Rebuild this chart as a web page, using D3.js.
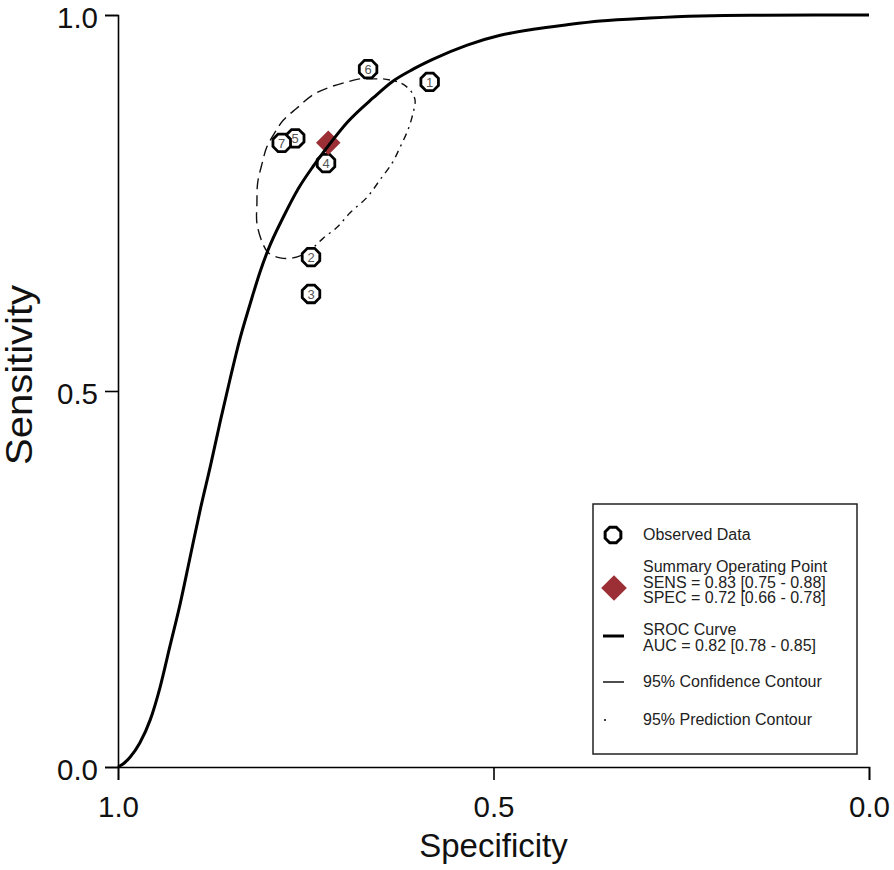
<!DOCTYPE html>
<html>
<head>
<meta charset="utf-8">
<script src="https://cdn.jsdelivr.net/npm/d3@7"></script>
<style>
  html, body { margin: 0; padding: 0; background: #fff; }
  svg { display: block; font-family: "Liberation Sans", Arial, sans-serif; }
</style>
</head>
<body>
<svg id="chart" width="894" height="870"></svg>
<script>
// ---- data (specificity, sensitivity) ----
const studyIds   = ["1", "2", "3", "4", "5", "6", "7"];
const studySpec  = [0.585, 0.743, 0.743, 0.723, 0.764, 0.667, 0.782];
const studySens  = [0.911, 0.678, 0.629, 0.803, 0.836, 0.928, 0.830];

const summarySpec = 0.72;
const summarySens = 0.83;

const srocSpec = [1.000, 0.992, 0.984, 0.971, 0.957, 0.944, 0.931, 0.917, 0.904, 0.891, 0.877, 0.864, 0.851, 0.838, 0.824, 0.811, 0.800, 0.780, 0.760, 0.740, 0.720, 0.694, 0.660, 0.634, 0.607, 0.581, 0.535, 0.491, 0.447, 0.402, 0.358, 0.292, 0.225, 0.158, 0.000];
const srocSens = [0.000, 0.005, 0.013, 0.032, 0.063, 0.106, 0.160, 0.218, 0.279, 0.340, 0.400, 0.459, 0.515, 0.568, 0.616, 0.658, 0.688, 0.731, 0.769, 0.799, 0.826, 0.858, 0.890, 0.912, 0.928, 0.941, 0.960, 0.973, 0.981, 0.987, 0.992, 0.996, 0.9987, 0.9997, 1.000];

// confidence contour: right side (dash-dot look) and left side (dashed)
const contourRightSpec = [0.647, 0.6245, 0.611, 0.6045, 0.607, 0.614, 0.6245, 0.635, 0.651, 0.668, 0.691, 0.708, 0.727, 0.740, 0.754];
const contourRightSens = [0.915, 0.910, 0.900, 0.887, 0.870, 0.847, 0.824, 0.803, 0.781, 0.758, 0.737, 0.718, 0.703, 0.691, 0.681];
const contourLeftSpec  = [0.754, 0.767, 0.784, 0.800, 0.808, 0.815, 0.815, 0.814, 0.808, 0.802, 0.791, 0.780, 0.762, 0.740, 0.718, 0.695, 0.678, 0.674, 0.647];
const contourLeftSens  = [0.681, 0.677, 0.677, 0.684, 0.698, 0.723, 0.750, 0.777, 0.803, 0.824, 0.844, 0.860, 0.876, 0.894, 0.904, 0.911, 0.915, 0.915, 0.915];

const tickValues = [1.0, 0.5, 0.0];
const tickLabels = ["1.0", "0.5", "0.0"];
const xTitle = "Specificity";
const yTitle = "Sensitivity";

const legendLabels = [
  ["Observed Data"],
  ["Summary Operating Point", "SENS = 0.83 [0.75 - 0.88]", "SPEC = 0.72 [0.66 - 0.78]"],
  ["SROC Curve", "AUC = 0.82 [0.78 - 0.85]"],
  ["95% Confidence Contour"],
  ["95% Prediction Contour"]
];

// ---- drawing ----
const svg = d3.select("#chart");
const x = d3.scaleLinear().domain([1, 0]).range([118, 869]);
const y = d3.scaleLinear().domain([0, 1]).range([767, 15]);

// axes
const xAxis = d3.axisBottom(x).tickValues(tickValues).tickFormat((d, i) => tickLabels[i]).tickSize(13).tickPadding(16);
const yAxis = d3.axisLeft(y).tickValues(tickValues).tickFormat((d, i) => tickLabels[i]).tickSize(13).tickPadding(8);

const gx = svg.append("g").attr("transform", "translate(0,767)").call(xAxis);
const gy = svg.append("g").attr("transform", "translate(118,0)").call(yAxis);
[gx, gy].forEach(g => {
  g.select(".domain").attr("stroke", "#000").attr("stroke-width", 1.6);
  g.selectAll(".tick line").attr("stroke", "#000").attr("stroke-width", 1.6);
  g.selectAll(".tick text").attr("fill", "#111").attr("font-size", 29.5)
    .attr("font-family", "Liberation Sans, Arial, sans-serif");
});
gx.selectAll(".tick text").attr("dy", "0.71em").attr("y", 29);
gy.selectAll(".tick text").attr("dy", "12.5px").attr("x", -20);

svg.append("text").attr("x", x(0.5)).attr("y", 857).attr("text-anchor", "middle")
  .attr("font-size", 33).attr("fill", "#111").text(xTitle);
svg.append("text").attr("transform", "translate(32,375) rotate(-90)").attr("text-anchor", "middle")
  .attr("font-size", 37).attr("fill", "#111").attr("textLength", 180).attr("lengthAdjust", "spacingAndGlyphs")
  .text(yTitle);

// contours
const line = d3.line().x(d => x(d[0])).y(d => y(d[1])).curve(d3.curveCatmullRom);
svg.append("path").datum(contourLeftSpec.map((s, i) => [s, contourLeftSens[i]]))
  .attr("d", line).attr("fill", "none").attr("stroke", "#111").attr("stroke-width", 1.4)
  .attr("stroke-dasharray", "11,6");
svg.append("path").datum(contourRightSpec.map((s, i) => [s, contourRightSens[i]]))
  .attr("d", line).attr("fill", "none").attr("stroke", "#111").attr("stroke-width", 1.4)
  .attr("stroke-dasharray", "7,5,2,5");

// octagon generator
function octagon(cx, cy, r) {
  const pts = d3.range(8).map(k => {
    const a = Math.PI / 8 + k * Math.PI / 4;
    return [cx + r * Math.cos(a), cy + r * Math.sin(a)];
  });
  return "M" + pts.map(p => p.join(",")).join("L") + "Z";
}

// study points
const studies = studyIds.map((id, i) => ({ id, spec: studySpec[i], sens: studySens[i] }));
const sg = svg.append("g").selectAll("g").data(studies).join("g");
sg.append("path").attr("d", d => octagon(x(d.spec), y(d.sens), 9.5))
  .attr("fill", "#fff").attr("stroke", "#000").attr("stroke-width", 2.8);
sg.append("text").attr("x", d => x(d.spec)).attr("y", d => y(d.sens)).attr("dy", "0.36em")
  .attr("text-anchor", "middle").attr("font-size", 13).attr("fill", "#555").text(d => d.id);

// summary diamond
const diamondColor = "#9b2f35";
svg.append("path")
  .attr("d", d3.symbol().type(d3.symbolSquare).size(300)())
  .attr("transform", `translate(${x(summarySpec)},${y(summarySens)}) rotate(45)`)
  .attr("fill", diamondColor);

// SROC curve
const srocLine = d3.line().x(d => x(d[0])).y(d => y(d[1])).curve(d3.curveMonotoneX);
svg.append("path").datum(srocSpec.map((s, i) => [s, srocSens[i]]))
  .attr("d", srocLine).attr("fill", "none").attr("stroke", "#000").attr("stroke-width", 3);

// legend
const lg = svg.append("g");
lg.append("rect").attr("x", 593).attr("y", 504).attr("width", 264).attr("height", 250)
  .attr("fill", "#fff").attr("stroke", "#222").attr("stroke-width", 1.5);
lg.append("path").attr("d", octagon(613, 535, 8.5)).attr("fill", "#fff").attr("stroke", "#000").attr("stroke-width", 3);
lg.append("path").attr("d", d3.symbol().type(d3.symbolSquare).size(330)())
  .attr("transform", "translate(614,588) rotate(45)").attr("fill", diamondColor);
lg.append("line").attr("x1", 603).attr("x2", 624).attr("y1", 636).attr("y2", 636).attr("stroke", "#000").attr("stroke-width", 3);
lg.append("line").attr("x1", 603).attr("x2", 624).attr("y1", 682).attr("y2", 682).attr("stroke", "#000").attr("stroke-width", 1.4);
lg.append("circle").attr("cx", 605).attr("cy", 720).attr("r", 1).attr("fill", "#000");

const legendBaselines = [540, 572, 635, 687, 725];
legendLabels.forEach((lines, i) => {
  const t = lg.append("text").attr("x", 643).attr("y", legendBaselines[i])
    .attr("font-size", 16).attr("fill", "#222");
  lines.forEach((s, j) => {
    t.append("tspan").attr("x", 643).attr("dy", j === 0 ? 0 : 15.5).text(s);
  });
});
</script>
</body>
</html>
